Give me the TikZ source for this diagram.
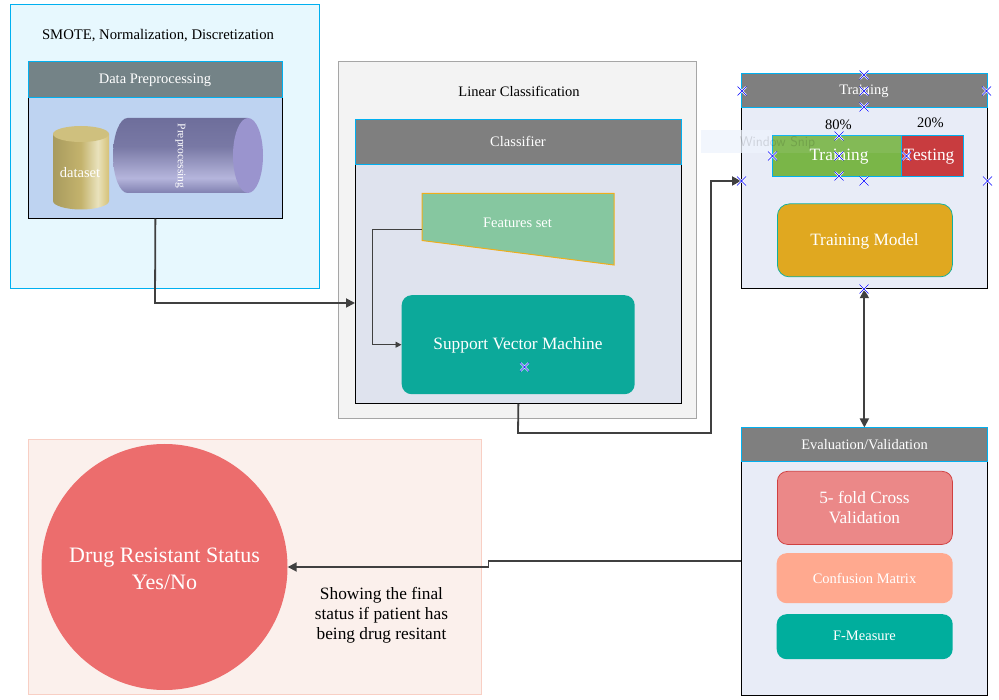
\documentclass[tikz,border=0pt]{standalone}
\usepackage{fontspec}
\setmainfont{Liberation Serif}
\usetikzlibrary{arrows.meta,shapes.geometric,calc}
\definecolor{hdrgray}{HTML}{7F7F7F}
\definecolor{cyanln}{HTML}{00B0F0}
\definecolor{pOne}{HTML}{E7F8FE}
\definecolor{dpBody}{HTML}{BED3F1}
\definecolor{dpHead}{HTML}{748387}
\definecolor{pTwo}{HTML}{F3F3F3}
\definecolor{clBody}{HTML}{DFE3EE}
\definecolor{featFill}{HTML}{86C7A0}
\definecolor{featLine}{HTML}{EFAE1C}
\definecolor{svmFill}{HTML}{0CA99A}
\definecolor{panelBlue}{HTML}{E8ECF7}
\definecolor{trainGreen}{HTML}{7AB648}
\definecolor{testRed}{HTML}{C83C3F}
\definecolor{modelFill}{HTML}{E0A820}
\definecolor{modelLine}{HTML}{10B0A0}
\definecolor{foldFill}{HTML}{EB8888}
\definecolor{foldLine}{HTML}{D04040}
\definecolor{confFill}{HTML}{FFA98F}
\definecolor{fmFill}{HTML}{00AE9D}
\definecolor{resFill}{HTML}{FBF0EC}
\definecolor{resLine}{HTML}{F8CFC4}
\definecolor{drugFill}{HTML}{EC6D6D}
\definecolor{linkCol}{HTML}{404040}
\definecolor{snipFill}{HTML}{EEF4FD}
\definecolor{ppDark}{HTML}{6E6E9B}
\definecolor{ppLight}{HTML}{B5B5DC}
\definecolor{ppEdge}{HTML}{8080B0}
\definecolor{ppCap}{HTML}{9A94CE}
\definecolor{dsLeft}{HTML}{A89B5E}
\definecolor{dsHalf}{HTML}{C4B36D}
\definecolor{dsMid}{HTML}{E9E2BC}
\definecolor{dsRight}{HTML}{D5C178}
\definecolor{dsTop}{HTML}{CFC07E}
\pgfdeclareverticalshading{ppshade}{100bp}{color(0bp)=(ppEdge); color(25bp)=(ppEdge); color(35bp)=(ppLight); color(56bp)=(ppDark!85!ppLight); color(75bp)=(ppDark); color(100bp)=(ppDark)}
\pgfdeclarehorizontalshading{dsshade}{100bp}{color(0bp)=(dsLeft); color(25bp)=(dsLeft); color(50bp)=(dsHalf); color(65bp)=(dsMid); color(75bp)=(dsRight); color(100bp)=(dsRight)}
\tikzset{x=1pt,y=-1pt,
 box/.style={draw=#1,line width=0.75pt,inner sep=0,anchor=north west},
 txt/.style={font=\fontsize{14.5}{17}\selectfont,align=center,inner sep=0},
 wtxt/.style={txt,text=white},
 big/.style={font=\fontsize{17.3}{20}\selectfont},
 hdr/.style={draw=cyanln,line width=1pt,fill=hdrgray,inner sep=0,anchor=north west},
 link/.style={draw=linkCol,line width=1.8pt,-{Triangle[length=9pt,width=9pt]}},
 biglink/.style={draw=linkCol,line width=1.8pt,{Triangle[length=9pt,width=9pt]}-{Triangle[length=9pt,width=9pt]}},
 thinlink/.style={draw=linkCol,line width=0.9pt,-{Triangle[length=6pt,width=6pt]}},
 mk/.style={draw=blue,line width=0.6pt},
 mkw/.style={draw=white,line width=1.8pt}
}
\newcommand{\xmark}[2]{%
 \draw[mkw] (#1-4,#2-4)--(#1+4,#2+4) (#1-4,#2+4)--(#1+4,#2-4);
 \draw[mk] (#1-4.5,#2-4.5)--(#1+4.5,#2+4.5) (#1-4.5,#2+4.5)--(#1+4.5,#2-4.5);}
\begin{document}
\begin{tikzpicture}
\useasboundingbox (0.5,0) rectangle (999.5,700);
\fill[white] (0.5,0) rectangle (999.5,700);
% panel 1
\node[box=cyanln,fill=pOne,minimum width=309pt,minimum height=284pt] (p1) at (10.5,4.5) {};
\node[txt,font=\fontsize{14.7}{17}\selectfont] (p1t) at (158.5,36) {SMOTE, Normalization, Discretization};
\node[box=black,fill=dpBody,minimum width=254pt,minimum height=156pt] (dp) at (28.5,62) {};
\node[hdr,fill=dpHead,minimum width=254pt,minimum height=36pt] (dph) at (28.5,61.5) {};
\node[wtxt] at (155.5,80.5) {Data Preprocessing};
% dataset cylinder
\shade[shading=dsshade]
 (53.5,134) -- (53.5,201) .. controls (53.5,205.5) and (66,209.5) .. (81.5,209.5) .. controls (97,209.5) and (109.5,205.5) .. (109.5,201) -- (109.5,134) -- cycle;
\fill[dsTop] (81.5,134) ellipse[x radius=28,y radius=8];
\node[wtxt] (ds) at (80.5,172.5) {dataset};
% preprocessing cylinder
\shade[shading=ppshade]
 (248,118) -- (128,118) .. controls (120.3,118) and (113.5,134.8) .. (113.5,155.5) .. controls (113.5,176.2) and (120.3,193) .. (128,193) -- (248,193) -- cycle;
\fill[ppCap] (248.5,155.5) ellipse[x radius=15,y radius=37.5];
\node[wtxt,rotate=-90,font=\fontsize{11.5}{13}\selectfont] (pp) at (181,156) {Preprocessing};
% panel 2
\node[box=black!35,fill=pTwo,minimum width=358pt,minimum height=357pt] (p2) at (338.5,61.5) {};
\node[txt] (p2t) at (519.5,91) {Linear Classification};
\node[box=black,fill=clBody,minimum width=326pt,minimum height=284pt] (cl) at (355.5,119) {};
\node[hdr,minimum width=326pt,minimum height=45pt] (clh) at (355.5,119) {};
\node[wtxt] at (518.5,141.5) {Classifier};
\draw[draw=featLine,line width=1pt,fill=featFill] (422.5,193.5) -- (614.5,193.5) -- (614.5,265) -- (422.5,240.5) -- cycle;
\coordinate (fsleft) at (422.5,229.5);
\node[wtxt] (fs) at (518,222.5) {Features set};
\node[fill=svmFill,rounded corners=10pt,inner sep=0,anchor=north west,minimum width=233pt,minimum height=99pt] (svm) at (402,295) {};
\node[wtxt,big] at (518.5,345.5) {Support Vector Machine};
\draw[thinlink] (fsleft) -- (372.5,229.5) |- (svm.west);
% panel 3
\node[box=black,fill=panelBlue,minimum width=246pt,minimum height=215pt] (tr) at (741.5,73.5) {};
\node[hdr,minimum width=246pt,minimum height=34pt] (trh) at (741.5,73.5) {};
\node[wtxt] at (864.5,91) {Training};
\node[txt] (p80) at (839,125) {80\%};
\node[txt] (p20) at (931,122.5) {20\%};
\node[hdr,fill=trainGreen,minimum width=129pt,minimum height=41pt] (trn) at (772.5,135.5) {};
\node[hdr,fill=testRed,minimum width=62pt,minimum height=41pt] (tst) at (901.5,135.5) {};
\fill[snipFill,opacity=0.08] (772.5,130) rectangle (902,153);
\fill[snipFill,opacity=0.75] (701,130) rectangle (772.5,153);
\node[text=black,opacity=0.13,font=\fontsize{14}{16}\selectfont\sffamily,inner sep=0] (snip) at (778,143) {Window Snip};
\node[wtxt,big] at (839.5,157) {Training};
\node[wtxt,big] at (929.5,157) {Testing};
\node[draw=modelLine,fill=modelFill,rounded corners=12pt,line width=0.75pt,inner sep=0,anchor=north west,minimum width=175pt,minimum height=73pt] (tm) at (777.5,203.5) {};
\node[wtxt,big] at (865,241) {Training Model};
% panel 4
\node[box=black,fill=panelBlue,minimum width=246pt,minimum height=267pt] (ev) at (741.5,427.5) {};
\node[hdr,minimum width=246pt,minimum height=34pt] (evh) at (741.5,427.5) {};
\node[wtxt] at (865,444.5) {Evaluation/Validation};
\node[draw=foldLine,fill=foldFill,rounded corners=10pt,line width=0.75pt,inner sep=0,anchor=north west,minimum width=175pt,minimum height=73pt] (fold) at (777.5,471) {};
\node[wtxt,big] at (865,507.5) {5- fold Cross\\Validation};
\node[fill=confFill,rounded corners=10pt,inner sep=0,anchor=north west,minimum width=176pt,minimum height=50pt] (cm) at (777,553) {};
\node[wtxt] at (865,578) {Confusion Matrix};
\node[fill=fmFill,rounded corners=10pt,inner sep=0,anchor=north west,minimum width=176pt,minimum height=45pt] (fm) at (777,614) {};
\node[wtxt] at (865,636) {F-Measure};
% result
\node[box=resLine,fill=resFill,minimum width=453pt,minimum height=254pt] (res) at (28.5,439.5) {};
\node[circle,fill=drugFill,inner sep=0,minimum size=246pt] (drug) at (165,567) {};
\node[wtxt,font=\fontsize{22}{27}\selectfont] at (165,569) {Drug Resistant Status\\Yes/No};
\node[txt,font=\fontsize{17.3}{20}\selectfont] (show) at (382,615.5) {Showing the final\\status if patient has\\being drug resitant};
% connectors
\draw[link] (dp.south) -- (155.5,303) -- (cl.west |- 0,303);
\draw[link] (cl.south) -- (518.5,433) -- (711.5,433) -- (711.5,181) -- (tr.west |- 0,181);
\draw[biglink] (tr.south) -- (ev.north);
\draw[link] (ev.west |- 0,561) -- (489,561) -- (489,567) -- (drug.east);
% markers
\foreach \a/\b in {864.5/75,864.5/91,864.5/107,742.5/91,987/91,839.5/136,839.5/156,839.5/176,864.5/181,773/156,907/156,742/181,988/181,864.5/289,525/367}{\xmark{\a}{\b}}
\end{tikzpicture}
\end{document}
